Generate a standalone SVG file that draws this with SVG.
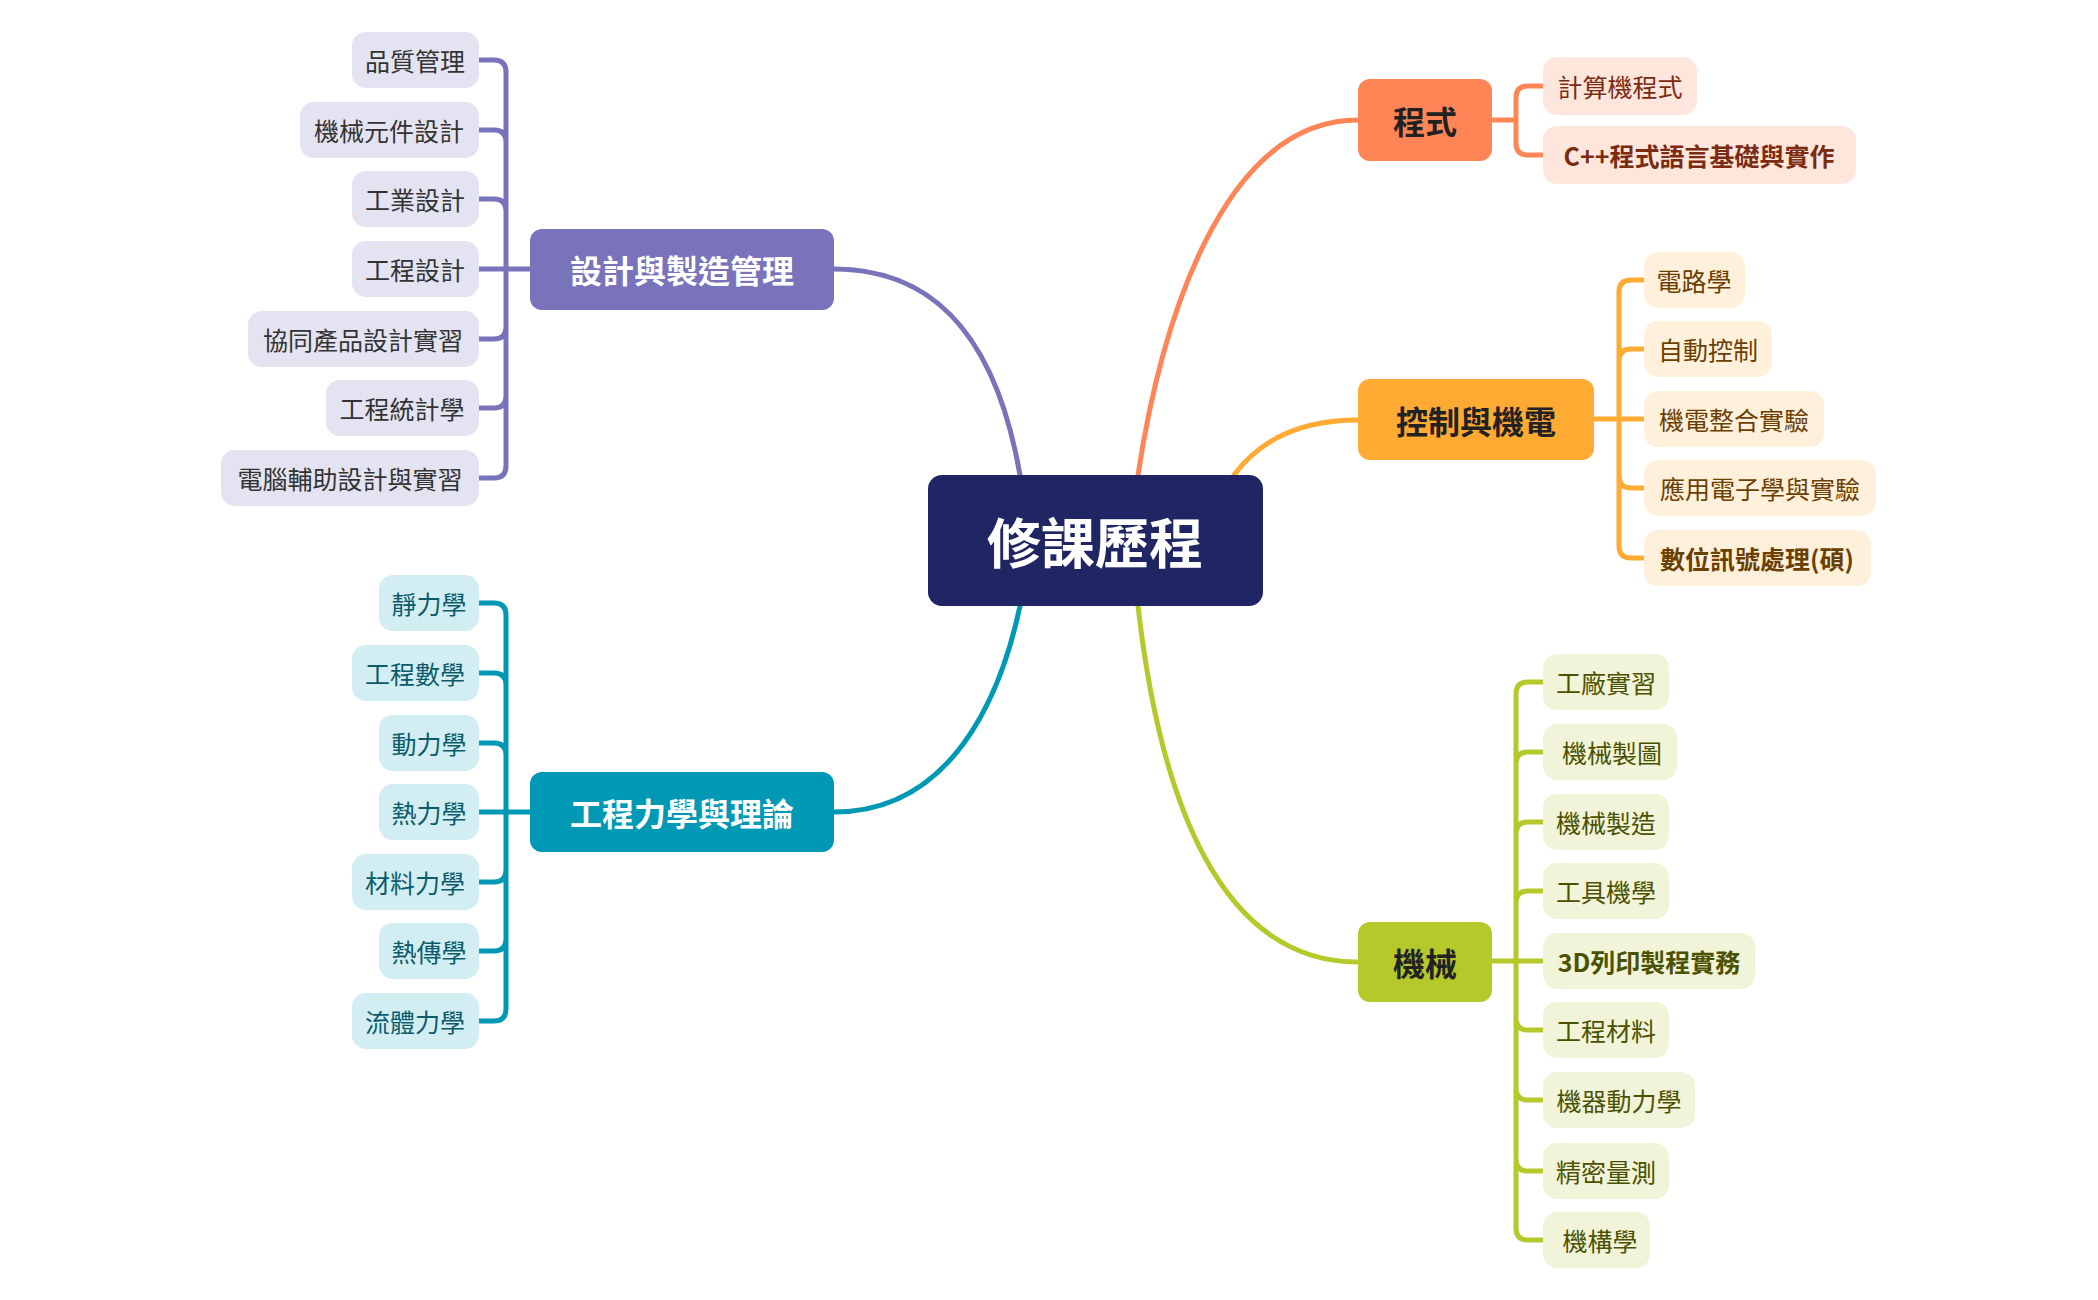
<svg xmlns="http://www.w3.org/2000/svg" width="2098" height="1300" viewBox="0 0 2098 1300">
<style>
text{font-family:"Noto Sans CJK TC","Noto Sans",sans-serif;text-anchor:middle;dominant-baseline:central}
.c{fill:none;stroke-width:5;stroke-linecap:round}
.leaf{font-size:25px}
.main{font-size:32px;font-weight:bold}
</style>
<rect width="2098" height="1300" fill="#fff"/>
<g id="connectors">
<path class="c" stroke="#7873BA" d="M1020,475 C1000,360 950,269 834,269"/>
<path class="c" stroke="#FF8556" d="M1138,475 C1160,330 1220,120 1358,120"/>
<path class="c" stroke="#FFAA33" d="M1234,475 C1260,440 1300,420 1358,420"/>
<path class="c" stroke="#0099B5" d="M1020,606 C1000,700 950,812 834,812"/>
<path class="c" stroke="#B5C92A" d="M1138,606 C1160,800 1220,962 1358,962"/>
<!-- design -->
<path class="c" stroke="#7873BA" d="M530,269 H479 M479,60 H494 Q506,60 506,72 V466 Q506,478 494,478 H479 M479,130 H494 Q506,130 506,142 M479,199 H494 Q506,199 506,211 M479,339 H494 Q506,339 506,327 M479,408 H494 Q506,408 506,396"/>
<!-- mechanics -->
<path class="c" stroke="#0099B5" d="M530,812 H479 M479,603 H494 Q506,603 506,615 V1009 Q506,1021 494,1021 H479 M479,673 H494 Q506,673 506,685 M479,743 H494 Q506,743 506,755 M479,882 H494 Q506,882 506,870 M479,951 H494 Q506,951 506,939"/>
<!-- program -->
<path class="c" stroke="#FF8556" d="M1492,120 H1516 M1543,86 H1528 Q1516,86 1516,98 V143 Q1516,155 1528,155 H1543"/>
<!-- control -->
<path class="c" stroke="#FFAA33" d="M1594,419 H1644 M1644,280 H1631 Q1619,280 1619,292 V546 Q1619,558 1631,558 H1644 M1644,349 H1631 Q1619,349 1619,361 M1644,488 H1631 Q1619,488 1619,476"/>
<!-- machine -->
<path class="c" stroke="#B5C92A" d="M1492,961 H1543 M1543,682 H1528 Q1516,682 1516,694 V1228 Q1516,1240 1528,1240 H1543 M1543,752 H1528 Q1516,752 1516,764 M1543,822 H1528 Q1516,822 1516,834 M1543,891 H1528 Q1516,891 1516,903 M1543,1030 H1528 Q1516,1030 1516,1018 M1543,1100 H1528 Q1516,1100 1516,1088 M1543,1171 H1528 Q1516,1171 1516,1159"/>
</g>
<g id="root"><rect x="928" y="475" width="335" height="131" rx="14" fill="#1F2663"/><text x="1095" y="540" font-size="54" font-weight="bold" fill="#fff">修課歷程</text></g>
<g id="design"><rect x="530" y="229" width="304" height="81" rx="12" fill="#7873BA"/><text class="main" x="682" y="269" fill="#fff">設計與製造管理</text></g>
<g id="mech"><rect x="530" y="772" width="304" height="80" rx="12" fill="#0099B5"/><text class="main" x="682" y="812" fill="#fff">工程力學與理論</text></g>
<g id="prog"><rect x="1358" y="79" width="134" height="82" rx="12" fill="#FF8556"/><text class="main" x="1425" y="120" fill="#222">程式</text></g>
<g id="ctrl"><rect x="1358" y="379" width="236" height="81" rx="12" fill="#FFAA33"/><text class="main" x="1476" y="420" fill="#222">控制與機電</text></g>
<g id="mach"><rect x="1358" y="922" width="134" height="80" rx="12" fill="#B5C92A"/><text class="main" x="1425" y="962" fill="#222">機械</text></g>
<g id="d-leaves" fill="#E4E3F2">
<g id="d1"><rect x="352" y="32" width="127" height="56" rx="14"/><text class="leaf" x="415" y="60" fill="#333">品質管理</text></g>
<g id="d2"><rect x="300" y="102" width="179" height="56" rx="14"/><text class="leaf" x="389" y="130" fill="#333">機械元件設計</text></g>
<g id="d3"><rect x="352" y="171" width="127" height="56" rx="14"/><text class="leaf" x="415" y="199" fill="#333">工業設計</text></g>
<g id="d4"><rect x="352" y="241" width="127" height="56" rx="14"/><text class="leaf" x="415" y="269" fill="#333">工程設計</text></g>
<g id="d5"><rect x="248" y="311" width="231" height="56" rx="14"/><text class="leaf" x="363" y="339" fill="#333">協同產品設計實習</text></g>
<g id="d6"><rect x="326" y="380" width="153" height="56" rx="14"/><text class="leaf" x="402" y="408" fill="#333">工程統計學</text></g>
<g id="d7"><rect x="221" y="450" width="258" height="56" rx="14"/><text class="leaf" x="350" y="478" fill="#333">電腦輔助設計與實習</text></g>
</g>
<g id="m-leaves" fill="#D3EEF3">
<g id="m1"><rect x="379" y="575" width="100" height="56" rx="14"/><text class="leaf" x="429" y="603" fill="#0B5B6B">靜力學</text></g>
<g id="m2"><rect x="352" y="645" width="127" height="56" rx="14"/><text class="leaf" x="415" y="673" fill="#0B5B6B">工程數學</text></g>
<g id="m3"><rect x="379" y="715" width="100" height="56" rx="14"/><text class="leaf" x="429" y="743" fill="#0B5B6B">動力學</text></g>
<g id="m4"><rect x="379" y="784" width="100" height="56" rx="14"/><text class="leaf" x="429" y="812" fill="#0B5B6B">熱力學</text></g>
<g id="m5"><rect x="352" y="854" width="127" height="56" rx="14"/><text class="leaf" x="415" y="882" fill="#0B5B6B">材料力學</text></g>
<g id="m6"><rect x="379" y="923" width="100" height="56" rx="14"/><text class="leaf" x="429" y="951" fill="#0B5B6B">熱傳學</text></g>
<g id="m7"><rect x="352" y="993" width="127" height="56" rx="14"/><text class="leaf" x="415" y="1021" fill="#0B5B6B">流體力學</text></g>
</g>
<g id="p-leaves" fill="#FFE6DD">
<g id="p1"><rect x="1543" y="57" width="154" height="58" rx="14"/><text class="leaf" x="1620" y="86" fill="#7A2B10">計算機程式</text></g>
<g id="p2"><rect x="1543" y="126" width="313" height="58" rx="14"/><text class="leaf" x="1699" y="155" fill="#7A2B10" font-weight="bold">C++程式語言基礎與實作</text></g>
</g>
<g id="c-leaves" fill="#FFF0DB">
<g id="c1"><rect x="1644" y="252" width="101" height="56" rx="14"/><text class="leaf" x="1694" y="280" fill="#6B3F00">電路學</text></g>
<g id="c2"><rect x="1644" y="321" width="128" height="56" rx="14"/><text class="leaf" x="1708" y="349" fill="#6B3F00">自動控制</text></g>
<g id="c3"><rect x="1644" y="391" width="180" height="56" rx="14"/><text class="leaf" x="1734" y="419" fill="#6B3F00">機電整合實驗</text></g>
<g id="c4"><rect x="1644" y="460" width="232" height="56" rx="14"/><text class="leaf" x="1760" y="488" fill="#6B3F00">應用電子學與實驗</text></g>
<g id="c5"><rect x="1644" y="530" width="227" height="56" rx="14"/><text class="leaf" x="1757" y="558" fill="#6B3F00" font-weight="bold">數位訊號處理(碩)</text></g>
</g>
<g id="k-leaves" fill="#F1F4D9">
<g id="k1"><rect x="1543" y="654" width="126" height="56" rx="14"/><text class="leaf" x="1606" y="682" fill="#4A5200">工廠實習</text></g>
<g id="k2"><rect x="1543" y="724" width="134" height="56" rx="14"/><text class="leaf" x="1612" y="752" fill="#4A5200">機械製圖</text></g>
<g id="k3"><rect x="1543" y="794" width="126" height="56" rx="14"/><text class="leaf" x="1606" y="822" fill="#4A5200">機械製造</text></g>
<g id="k4"><rect x="1543" y="863" width="126" height="56" rx="14"/><text class="leaf" x="1606" y="891" fill="#4A5200">工具機學</text></g>
<g id="k5"><rect x="1543" y="933" width="212" height="56" rx="14"/><text class="leaf" x="1649" y="961" fill="#4A5200" font-weight="bold">3D列印製程實務</text></g>
<g id="k6"><rect x="1543" y="1002" width="126" height="56" rx="14"/><text class="leaf" x="1606" y="1030" fill="#4A5200">工程材料</text></g>
<g id="k7"><rect x="1543" y="1072" width="152" height="56" rx="14"/><text class="leaf" x="1619" y="1100" fill="#4A5200">機器動力學</text></g>
<g id="k8"><rect x="1543" y="1143" width="126" height="56" rx="14"/><text class="leaf" x="1606" y="1171" fill="#4A5200">精密量測</text></g>
<g id="k9"><rect x="1543" y="1212" width="107" height="56" rx="14"/><text class="leaf" x="1600" y="1240" fill="#4A5200">機構學</text></g>
</g>
</svg>
